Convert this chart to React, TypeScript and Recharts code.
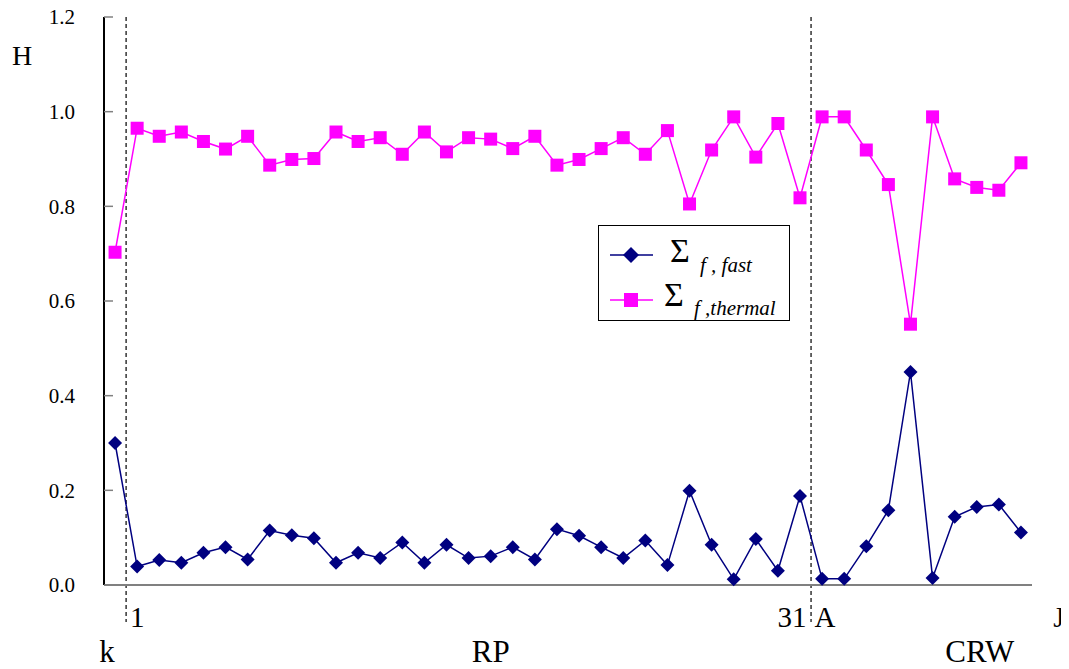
import React from "react";
import { Line, LineChart, XAxis, YAxis, ReferenceLine, Legend, Label } from "recharts";

// categories: k, RP 1..31, CRW A..J
const categories = [
  "k",
  "1", "2", "3", "4", "5", "6", "7", "8", "9", "10",
  "11", "12", "13", "14", "15", "16", "17", "18", "19", "20",
  "21", "22", "23", "24", "25", "26", "27", "28", "29", "30", "31",
  "A", "B", "C", "D", "E", "F", "G", "H", "I", "J",
];

const fastValues = [
  0.30, 0.039, 0.053, 0.047, 0.068, 0.080, 0.054, 0.115, 0.105, 0.099,
  0.047, 0.068, 0.057, 0.090, 0.047, 0.085, 0.057, 0.061, 0.080, 0.054,
  0.118, 0.104, 0.080, 0.057, 0.094, 0.042, 0.199, 0.085, 0.012, 0.097,
  0.030, 0.188, 0.013, 0.013, 0.082, 0.158, 0.450, 0.015, 0.144, 0.165,
  0.170, 0.111,
];

const thermalValues = [
  0.703, 0.965, 0.948, 0.957, 0.937, 0.921, 0.948, 0.887, 0.899, 0.901,
  0.957, 0.937, 0.945, 0.910, 0.957, 0.915, 0.945, 0.942, 0.922, 0.948,
  0.887, 0.899, 0.922, 0.945, 0.910, 0.960, 0.805, 0.919, 0.989, 0.904,
  0.975, 0.818, 0.989, 0.989, 0.919, 0.846, 0.551, 0.989, 0.858, 0.840,
  0.834, 0.892,
];

const yTicks = [0, 0.2, 0.4, 0.6, 0.8, 1.0, 1.2];

// labels shown under the axis (upper row) and group names (lower row)
const upperLabels: Record<string, string> = { "1": "1", "31": "31", A: "A", J: "J" };
const groupLabels: Record<string, string> = { k: "k", "17": "RP", H: "CRW" };
const dividers = ["1", "A"];

const upperShift: Record<string, number> = { "31": -8, A: 3, J: 38 };
const groupShift: Record<string, number> = { k: -8, H: 3 };

const data = categories.map((cat, i) => ({
  cat,
  fast: fastValues[i],
  thermal: thermalValues[i],
}));

const FONT = "'Liberation Serif', 'Times New Roman', serif";
const NAVY = "#000080";
const MAGENTA = "#FF00FF";

function Diamond({ cx, cy, r = 7 }: any) {
  return <path d={`M${cx},${cy - r}L${cx + r},${cy}L${cx},${cy + r}L${cx - r},${cy}Z`} fill={NAVY} />;
}

function Square({ cx, cy, s = 6.5 }: any) {
  return <rect x={cx - s} y={cy - s} width={s * 2} height={s * 2} fill={MAGENTA} />;
}

function XTick({ x, y, payload }: any) {
  const v = payload.value;
  return (
    <g fontFamily={FONT} fill="#000">
      {upperLabels[v] && (
        <text x={x + (upperShift[v] || 0)} y={y + 42} textAnchor="middle" fontSize={29}>
          {upperLabels[v]}
        </text>
      )}
      {groupLabels[v] && (
        <text x={x + (groupShift[v] || 0)} y={y + 77} textAnchor="middle" fontSize={31}>
          {groupLabels[v]}
        </text>
      )}
    </g>
  );
}

function YTick({ x, y, payload }: any) {
  return (
    <g>
      <text x={x} y={y} dy="0.35em" textAnchor="end" fontFamily={FONT} fontSize={21} fill="#000">
        {payload.value.toFixed(1)}
      </text>
      <line x1={x + 29} x2={x + 38} y1={y} y2={y} stroke="#808080" strokeWidth={1.5} />
    </g>
  );
}

function LegendBox() {
  return (
    <svg width={192} height={96} style={{ display: "block" }}>
      <rect x={0.5} y={0.5} width={191} height={95} fill="#fff" stroke="#000" strokeWidth={1} />
      <line x1={12} x2={55} y1={30} y2={30} stroke={NAVY} strokeWidth={1.5} />
      <Diamond cx={33} cy={30} r={8} />
      <text x={72} y={37} fontFamily={FONT} fontSize={34}>Σ</text>
      <text x={102} y={47} fontFamily={FONT} fontSize={21} fontStyle="italic">f , fast</text>
      <line x1={12} x2={55} y1={75} y2={75} stroke={MAGENTA} strokeWidth={1.5} />
      <Square cx={33} cy={75} s={7} />
      <text x={66} y={81} fontFamily={FONT} fontSize={34}>Σ</text>
      <text x={96} y={90} fontFamily={FONT} fontSize={21} fontStyle="italic">f ,thermal</text>
    </svg>
  );
}

export default function App() {
  return (
    <>
      <style>{`html, body { overflow: hidden; } .recharts-surface { overflow: visible; }`}</style>
      <LineChart
        width={1061}
        height={661}
        data={data}
        margin={{ top: 9, right: 37, bottom: 0, left: 0 }}
      >
        <XAxis
          dataKey="cat"
          scale="band"
          height={84}
          interval={0}
          tickSize={0}
          tickMargin={0}
          tick={<XTick />}
          axisLine={{ stroke: "#808080", strokeWidth: 2 }}
        />
        <XAxis xAxisId="top" dataKey="cat" scale="band" orientation="top" height={0} tick={false} tickLine={false} axisLine={{ stroke: "#808080", strokeWidth: 2 }} />
        <YAxis
          domain={[0, 1.2]}
          ticks={yTicks}
          width={96}
          tickSize={0}
          tickMargin={29}
          tick={<YTick />}
          axisLine={{ stroke: "#000", strokeWidth: 2 }}
        >
          <Label
            content={() => (
              <text x={4} y={57} fontFamily={FONT} fontSize={28} fill="#000">H</text>
            )}
          />
        </YAxis>
        <YAxis yAxisId="right" orientation="right" width={0} domain={[0, 1.2]} tick={false} tickLine={false} axisLine={{ stroke: "#808080", strokeWidth: 2 }} />
        {dividers.map((d) => (
          <ReferenceLine
            key={d}
            segment={[{ x: d, y: 1.2 }, { x: d, y: -0.078 }]}
            position="start"
            ifOverflow="visible"
            stroke="#000"
            strokeDasharray="4 3"
            strokeWidth={1.2}
          />
        ))}
        <Line
          dataKey="fast"
          stroke={NAVY}
          strokeWidth={1.5}
          isAnimationActive={false}
          dot={(p: any) => <Diamond key={`f${p.index}`} cx={p.cx} cy={p.cy} />}
        />
        <Line
          dataKey="thermal"
          stroke={MAGENTA}
          strokeWidth={1.5}
          isAnimationActive={false}
          dot={(p: any) => <Square key={`t${p.index}`} cx={p.cx} cy={p.cy} />}
        />
        <Legend
          layout="vertical"
          align="center"
          verticalAlign="middle"
          content={() => <LegendBox />}
          wrapperStyle={{ position: "absolute", left: 590, top: 217, width: 192, height: 96 }}
        />
      </LineChart>
    </>
  );
}
